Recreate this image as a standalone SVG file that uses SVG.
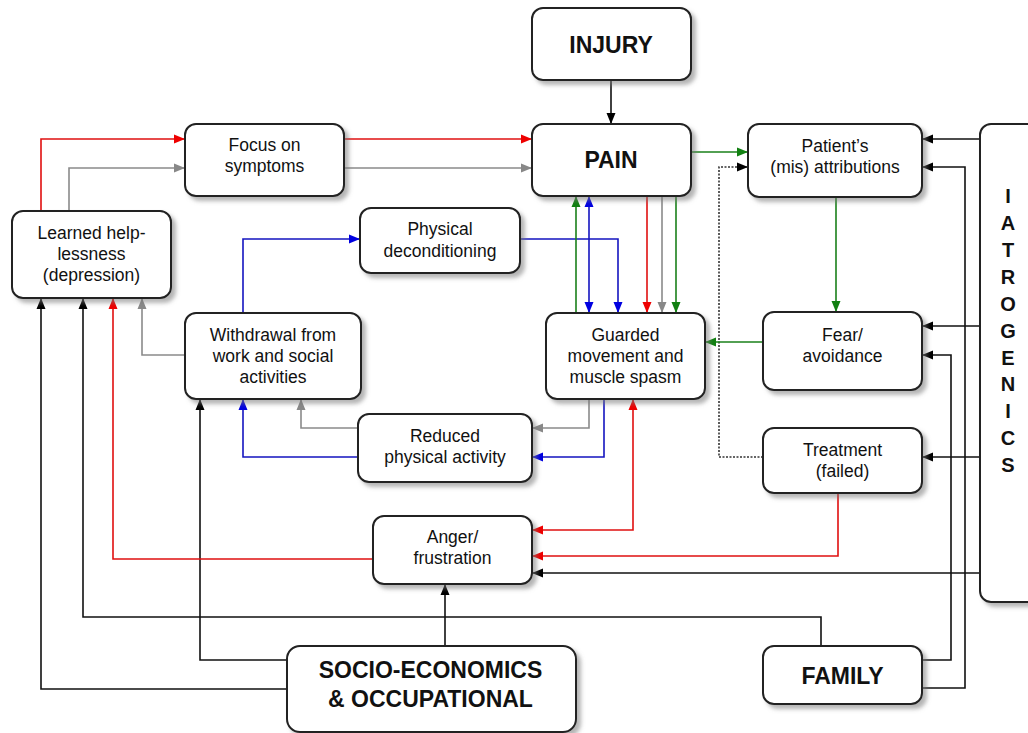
<svg xmlns="http://www.w3.org/2000/svg" width="1028" height="733" viewBox="0 0 1028 733">
<defs>
<filter id="sh" x="-10%" y="-10%" width="130%" height="140%">
<feDropShadow dx="4" dy="4" stdDeviation="2" flood-color="#777" flood-opacity="0.55"/>
</filter>
<marker id="ak" markerUnits="userSpaceOnUse" markerWidth="12" markerHeight="10" refX="11" refY="5" orient="auto-start-reverse"><path d="M0,0.5 L11,5 L0,9.5 z" fill="#000"/></marker>
<marker id="ar" markerUnits="userSpaceOnUse" markerWidth="12" markerHeight="10" refX="11" refY="5" orient="auto-start-reverse"><path d="M0,0.5 L11,5 L0,9.5 z" fill="#ee0000"/></marker>
<marker id="ag" markerUnits="userSpaceOnUse" markerWidth="12" markerHeight="10" refX="11" refY="5" orient="auto-start-reverse"><path d="M0,0.5 L11,5 L0,9.5 z" fill="#888"/></marker>
<marker id="ab" markerUnits="userSpaceOnUse" markerWidth="12" markerHeight="10" refX="11" refY="5" orient="auto-start-reverse"><path d="M0,0.5 L11,5 L0,9.5 z" fill="#0000e0"/></marker>
<marker id="an" markerUnits="userSpaceOnUse" markerWidth="12" markerHeight="10" refX="11" refY="5" orient="auto-start-reverse"><path d="M0,0.5 L11,5 L0,9.5 z" fill="#118011"/></marker>
</defs>
<style>
.box{fill:#fff;stroke:#222;stroke-width:2;filter:url(#sh)}
.t{font-family:"Liberation Sans",Arial,sans-serif;font-size:17.5px;fill:#111;text-anchor:middle}
.big{font-size:23px;font-weight:bold}
.ia{font-family:"Liberation Sans",Arial,sans-serif;font-size:20px;font-weight:bold;fill:#111;text-anchor:middle}
.c{fill:none;stroke-width:1.6}
.k{stroke:#111;marker-end:url(#ak)}
.r{stroke:#e01010;marker-end:url(#ar)}
.g{stroke:#8a8a8a;marker-end:url(#ag)}
.b{stroke:#1515c0;marker-end:url(#ab)}
.n{stroke:#1a801a;marker-end:url(#an)}
.dot{stroke:#333;stroke-dasharray:2 1.5;marker-end:url(#ak)}
</style>
<rect width="1028" height="733" fill="#fff"/>

<g id="connectors">
<path class="c k" d="M611,80 V124"/>
<path class="c k" d="M980,139 H922"/>
<path class="c k" d="M922,688 H965 V167 H922"/>
<path class="c k" d="M980,326 H922"/>
<path class="c k" d="M922,660 H951 V355 H922"/>
<path class="c k" d="M980,457 H922"/>
<path class="c k" d="M980,573 H532"/>
<path class="c k" d="M821,646 V617 H83 V298"/>
<path class="c k" d="M287,689 H41 V298"/>
<path class="c k" d="M287,660 H200 V399"/>
<path class="c k" d="M445,646 V584"/>
<path class="c dot" d="M763,457 H719 V167 H748"/>

<path class="c r" d="M41,211 V139 H185"/>
<path class="c r" d="M344,139 H532"/>
<path class="c r" d="M647,196 V313"/>
<path class="c r" d="M633,399 V530 H532" marker-start="url(#ar)"/>
<path class="c r" d="M838,493 V556 H532"/>
<path class="c r" d="M373,559 H113 V298"/>

<path class="c g" d="M69,211 V168 H185"/>
<path class="c g" d="M344,168 H532"/>
<path class="c g" d="M662,196 V313"/>
<path class="c g" d="M185,355 H142 V298"/>
<path class="c g" d="M589,399 V428 H532"/>
<path class="c g" d="M358,428 H301 V399"/>

<path class="c b" d="M589,196 V313" marker-start="url(#ab)"/>
<path class="c b" d="M520,239 H618 V313"/>
<path class="c b" d="M243,313 V239 H360"/>
<path class="c b" d="M604,399 V457 H532"/>
<path class="c b" d="M358,457 H243 V399"/>

<path class="c n" d="M690,152 H748"/>
<path class="c n" d="M836,197 V312"/>
<path class="c n" d="M763,342 H705"/>
<path class="c n" d="M576,313 V196"/>
<path class="c n" d="M676,196 V313"/>
</g>

<g id="injury"><rect class="box" x="532" y="8" width="159" height="72" rx="11"/><text class="t big" x="611" y="53">INJURY</text></g>
<g id="pain"><rect class="box" x="532" y="124" width="159" height="72" rx="11"/><text class="t big" x="611" y="168">PAIN</text></g>
<g id="focus"><rect class="box" x="185" y="124" width="159" height="72" rx="11"/><text class="t" x="264.5" y="151">Focus on</text><text class="t" x="264.5" y="172">symptoms</text></g>
<g id="learned"><rect class="box" x="12" y="211" width="159" height="87" rx="11"/><text class="t" x="91.5" y="239">Learned help-</text><text class="t" x="91.5" y="260">lessness</text><text class="t" x="91.5" y="281">(depression)</text></g>
<g id="deconditioning"><rect class="box" x="360" y="208" width="160" height="65" rx="11"/><text class="t" x="440" y="235">Physical</text><text class="t" x="440" y="257">deconditioning</text></g>
<g id="attributions"><rect class="box" x="748" y="124" width="174" height="73" rx="11"/><text class="t" x="835" y="152">Patient’s</text><text class="t" x="835" y="173">(mis) attributions</text></g>
<g id="withdrawal"><rect class="box" x="185" y="313" width="176" height="86" rx="11"/><text class="t" x="273" y="341">Withdrawal from</text><text class="t" x="273" y="362">work and social</text><text class="t" x="273" y="383">activities</text></g>
<g id="guarded"><rect class="box" x="546" y="313" width="159" height="86" rx="11"/><text class="t" x="625.5" y="341">Guarded</text><text class="t" x="625.5" y="362">movement and</text><text class="t" x="625.5" y="383">muscle spasm</text></g>
<g id="fear"><rect class="box" x="763" y="312" width="159" height="78" rx="11"/><text class="t" x="842.5" y="341">Fear/</text><text class="t" x="842.5" y="362">avoidance</text></g>
<g id="reduced"><rect class="box" x="358" y="414" width="174" height="68" rx="11"/><text class="t" x="445" y="442">Reduced</text><text class="t" x="445" y="463">physical activity</text></g>
<g id="treatment"><rect class="box" x="763" y="428" width="159" height="65" rx="11"/><text class="t" x="842.5" y="456">Treatment</text><text class="t" x="842.5" y="477">(failed)</text></g>
<g id="anger"><rect class="box" x="373" y="516" width="159" height="68" rx="11"/><text class="t" x="452.5" y="543">Anger/</text><text class="t" x="452.5" y="564">frustration</text></g>
<g id="socio"><rect class="box" x="287" y="646" width="289" height="86" rx="13"/><text class="t big" x="430.5" y="678">SOCIO-ECONOMICS</text><text class="t big" x="430.5" y="707">&amp; OCCUPATIONAL</text></g>
<g id="family"><rect class="box" x="763" y="646" width="159" height="58" rx="11"/><text class="t big" x="842.5" y="684">FAMILY</text></g>
<g id="iatrogenics"><rect class="box" x="980" y="124" width="80" height="478" rx="11"/>
<text class="ia" x="1008" y="203">I</text><text class="ia" x="1008" y="230">A</text><text class="ia" x="1008" y="257">T</text><text class="ia" x="1008" y="284">R</text><text class="ia" x="1008" y="311">O</text><text class="ia" x="1008" y="338">G</text><text class="ia" x="1008" y="365">E</text><text class="ia" x="1008" y="391">N</text><text class="ia" x="1008" y="418">I</text><text class="ia" x="1008" y="445">C</text><text class="ia" x="1008" y="472">S</text></g>
</svg>
